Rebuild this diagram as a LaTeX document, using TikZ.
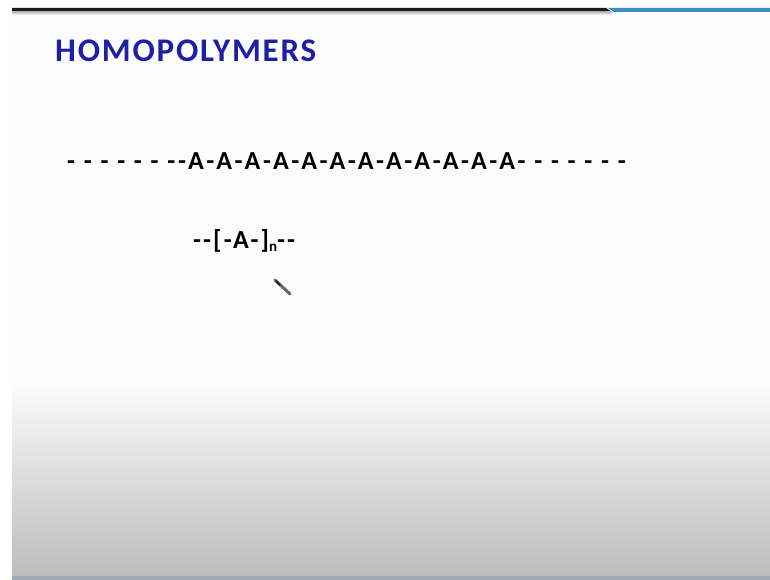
\documentclass[tikz,border=0pt]{standalone}
\usepackage{fontspec}
\setmainfont{Carlito}[Ligatures=TeXOff]
\begin{document}
\begin{tikzpicture}[x=1pt,y=-1pt,
  slidetext/.style={inner sep=0pt, anchor=base west},
  titletext/.style={slidetext, text=titleblue},
]
\definecolor{titleblue}{HTML}{1E1EA6}
\definecolor{barblue}{HTML}{3B8FC0}
\definecolor{bardark}{HTML}{1E1A18}
\definecolor{footrule}{HTML}{9EAAB2}
\useasboundingbox (0,0) rectangle (770,580);
% page background
\fill[white] (0,0) rectangle (770,580);
% slide body with a soft grey fade towards the bottom
\fill[white!99!black] (12,12) rectangle (770,380);
\shade[top color=white!99!black, bottom color=black!26] (12,380) rectangle (770,576);
\fill[footrule] (12,576) rectangle (770,580);
% header rules
\fill[bardark] (12,8) -- (606,8) -- (612,12) -- (12,12) -- cycle;
\fill[barblue] (608,8) -- (770,8) -- (770,12) -- (614,12) -- cycle;
\shade[top color=black!25, bottom color=white!99!black] (12,12) rectangle (612,15);
% title
\node[titletext, font=\bfseries\fontsize{33}{36}\selectfont\addfontfeature{LetterSpace=5.5}] (title) at (55,62) {HOMOPOLYMERS};
% chain of repeating units
\node[slidetext, font=\bfseries\fontsize{26}{29}\selectfont\addfontfeature{LetterSpace=11}] (chain) at (67,169)
  {- - - - - - --A-A-A-A-A-A-A-A-A-A-A-A- - - - - - -};
% repeat-unit notation
\node[slidetext, font=\bfseries\fontsize{26}{29}\selectfont\addfontfeature{LetterSpace=8}] (unit) at (193,248)
  {--[-A-]\raisebox{-0.25ex}{\fontsize{15}{16}\selectfont n}--};
% pointer
\draw[black!60, line width=3pt, line cap=round] (275,280) -- (290,294);
\draw[black!85, line width=2pt, line cap=round] (276,281) -- (280,285);
\end{tikzpicture}
\end{document}
